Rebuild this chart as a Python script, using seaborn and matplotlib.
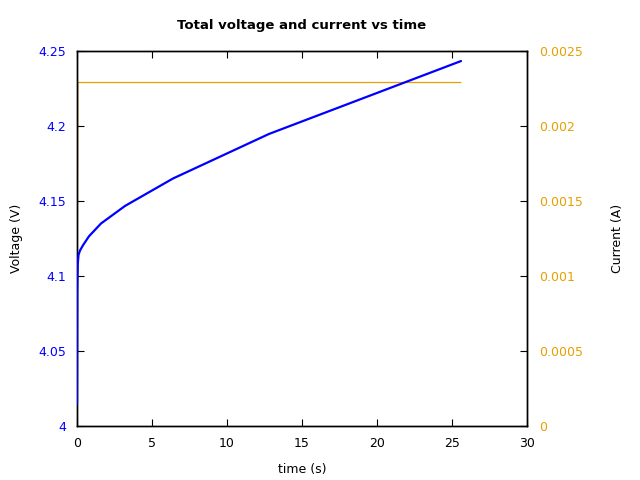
import matplotlib
matplotlib.use("Agg")
import matplotlib.pyplot as plt
import seaborn as sns
import pandas as pd
from matplotlib.ticker import FuncFormatter

sns.set_style("ticks")
plt.rcParams['font.family'] = ['DejaVu Sans']
plt.rcParams['text.color'] = 'black'
plt.rcParams['axes.labelcolor'] = 'black'
plt.rcParams['xtick.color'] = 'black'
plt.rcParams['ytick.color'] = 'black'

# Data
time_v = [0.0, 0.02, 0.05, 0.1, 0.2, 0.4, 0.8, 1.6, 3.2, 6.4, 12.8, 25.6]
voltage = [4.015, 4.090, 4.108, 4.114, 4.117, 4.1205, 4.1265, 4.135, 4.1467, 4.165, 4.1947, 4.2433]
time_i = [0.0, 0.05, 25.6]
current = [0.0, 0.00229, 0.00229]

dfv = pd.DataFrame({"time": time_v, "voltage": voltage})
dfi = pd.DataFrame({"time": time_i, "current": current})

blue = "#0000ff"
orange = "#e6a000"

fig = plt.figure(figsize=(6.4, 4.8), dpi=100)
ax = fig.add_axes([77/640, 54/480, 450/640, 375/480])
ax2 = ax.twinx()

sns.lineplot(data=dfv, x="time", y="voltage", ax=ax, color=blue, linewidth=1.6,
             sort=False, estimator=None, zorder=3)
sns.lineplot(data=dfi, x="time", y="current", ax=ax2, color=orange, linewidth=0.9,
             sort=False, estimator=None)
ax.set_zorder(ax2.get_zorder() + 1)
ax.patch.set_visible(False)

ax.set_xlim(0, 30)
ax.set_ylim(4.0, 4.25)
ax2.set_ylim(0, 0.0025)
ax.set_xticks([0, 5, 10, 15, 20, 25, 30])
ax.set_yticks([4.0, 4.05, 4.1, 4.15, 4.2, 4.25])
ax2.set_yticks([0, 0.0005, 0.001, 0.0015, 0.002, 0.0025])
fmt = FuncFormatter(lambda v, p: "%g" % round(v, 6))
ax.yaxis.set_major_formatter(fmt)
ax.xaxis.set_major_formatter(fmt)
ax2.yaxis.set_major_formatter(FuncFormatter(lambda v, p: "%g" % round(v, 7)))

fs = 9
ax.tick_params(axis='x', direction='in', length=5, top=True, labelsize=fs, pad=8, colors='black')
ax.tick_params(axis='y', direction='in', length=5, labelsize=fs, labelcolor=blue, pad=8)
ax2.tick_params(axis='y', direction='in', length=5, labelsize=fs, labelcolor=orange, pad=9)

for a in (ax, ax2):
    for s in a.spines.values():
        s.set_visible(True)
        s.set_color('black')
        s.set_linewidth(1.0)

ax.set_xlabel("time (s)", fontsize=fs, labelpad=9)
ax.set_ylabel("Voltage (V)", fontsize=fs, labelpad=11)
ax2.set_ylabel("Current (A)", fontsize=fs, labelpad=20)
ax.set_title("Total voltage and current vs time", fontsize=fs + 0.5, fontweight='bold', pad=16)

fig.savefig("out.png", dpi=100)
